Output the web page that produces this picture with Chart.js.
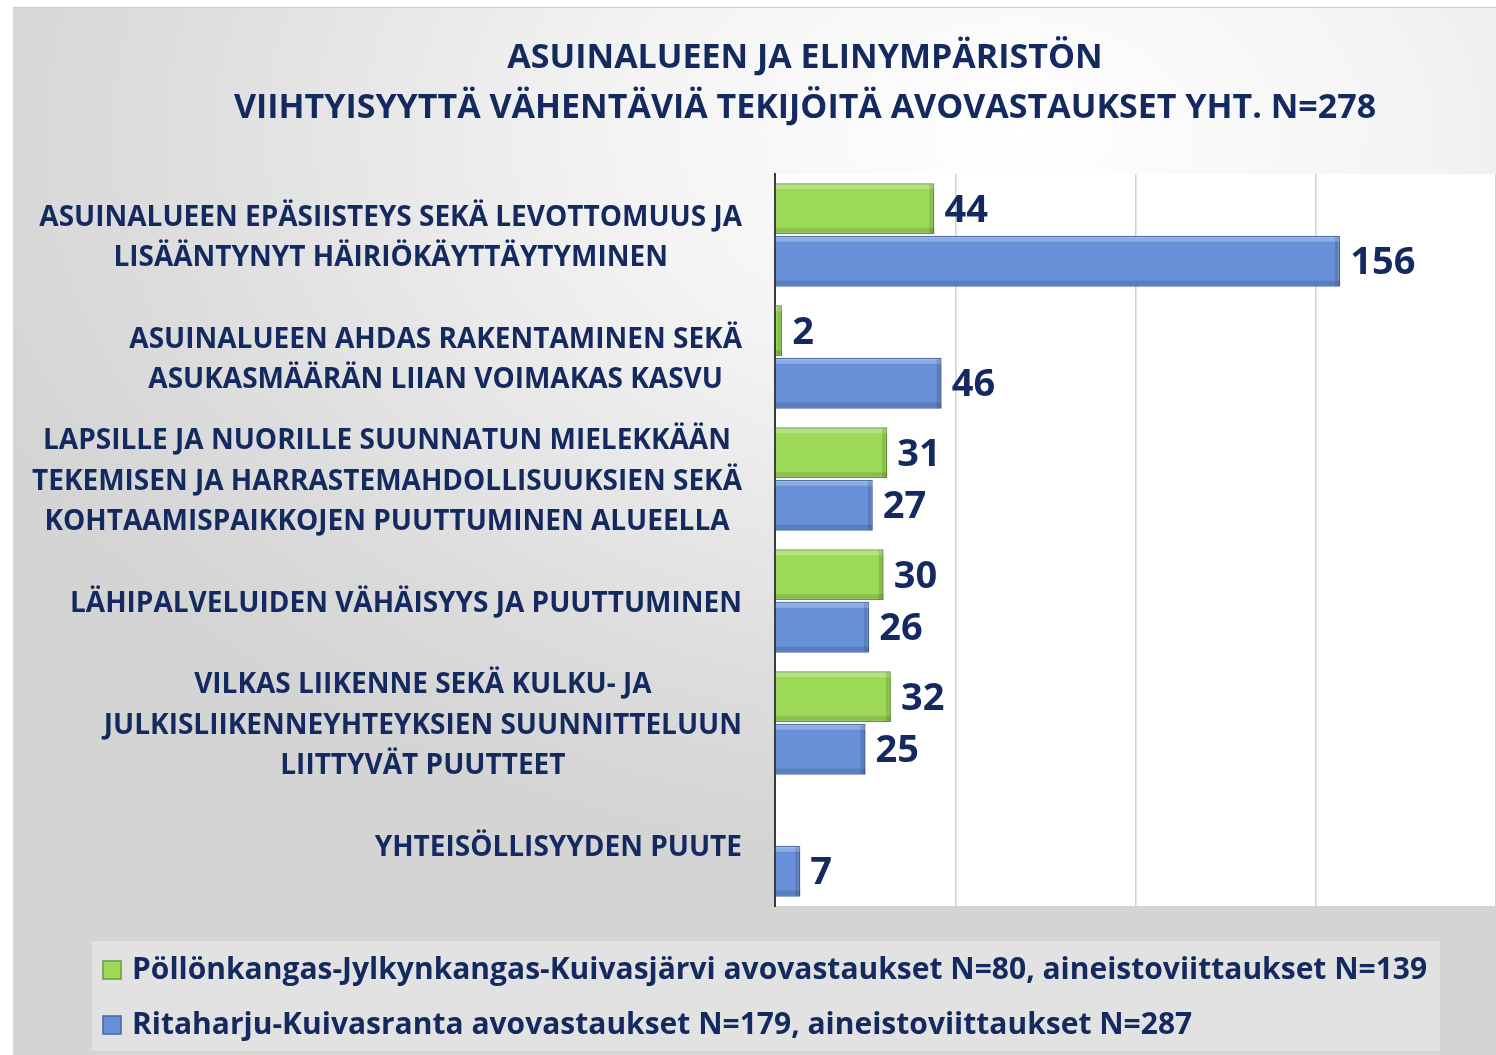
<!DOCTYPE html>
<html>
<head>
<meta charset="utf-8">
<script src="https://cdn.jsdelivr.net/npm/chart.js@4.4.1/dist/chart.umd.min.js"></script>
<style>
  html, body { margin: 0; padding: 0; background: #ffffff; }
  #frame {
    position: absolute; left: 13px; top: 7px; width: 1483px; height: 1048px;
    background: radial-gradient(ellipse 75% 70% at 68% 12%, #ffffff 0%, #f4f4f4 35%, #dcdcdc 80%, #d4d4d4 100%);
    border-top: 1px solid #c9c9c9;
    box-sizing: border-box;
  }
</style>
</head>
<body>
<div id="frame"><canvas id="chart"></canvas></div>
<script>
// Survey chart: factors reducing comfort of living area
const titleLines = ['ASUINALUEEN JA ELINYMPÄRISTÖN', 'VIIHTYISYYTTÄ VÄHENTÄVIÄ TEKIJÖITÄ AVOVASTAUKSET YHT. N=278'];

const categories = [
  ['ASUINALUEEN EPÄSIISTEYS SEKÄ LEVOTTOMUUS JA', 'LISÄÄNTYNYT HÄIRIÖKÄYTTÄYTYMINEN'],
  ['ASUINALUEEN AHDAS RAKENTAMINEN SEKÄ', 'ASUKASMÄÄRÄN LIIAN VOIMAKAS KASVU'],
  ['LAPSILLE JA NUORILLE SUUNNATUN MIELEKKÄÄN', 'TEKEMISEN JA HARRASTEMAHDOLLISUUKSIEN SEKÄ', 'KOHTAAMISPAIKKOJEN PUUTTUMINEN ALUEELLA'],
  ['LÄHIPALVELUIDEN VÄHÄISYYS JA PUUTTUMINEN'],
  ['VILKAS LIIKENNE SEKÄ KULKU- JA', 'JULKISLIIKENNEYHTEYKSIEN SUUNNITTELUUN', 'LIITTYVÄT PUUTTEET'],
  ['YHTEISÖLLISYYDEN PUUTE']
];

const seriesNames = [
  'Pöllönkangas-Jylkynkangas-Kuivasjärvi avovastaukset N=80, aineistoviittaukset N=139',
  'Ritaharju-Kuivasranta avovastaukset N=179, aineistoviittaukset N=287'
];
const pollonkangasValues = [44, 2, 31, 30, 32, null];
const ritaharjuValues = [156, 46, 27, 26, 25, 7];

const navy = '#13295f';
const greenFill = '#9bd957', greenEdge = '#6a9a34';
const blueFill = '#6790d8', blueEdge = '#46679f';

// white plot area + title + category labels + legend box
const decorPlugin = {
  id: 'decor',
  beforeDraw: function(chart) {
    const ctx = chart.ctx, a = chart.chartArea;
    ctx.save();
    ctx.fillStyle = '#ffffff';
    ctx.fillRect(a.left, a.top, a.right - a.left, a.bottom - a.top);
    ctx.restore();
  },
  afterDraw: function(chart) {
    const ctx = chart.ctx;
    const yScale = chart.scales.y;
    ctx.save();
    // title
    ctx.fillStyle = navy;
    ctx.textAlign = 'center';
    ctx.textBaseline = 'middle';
    ctx.font = 'bold 34px "Open Sans"';
    ctx.fillText(titleLines[0], 792, 50);
    ctx.fillText(titleLines[1], 792, 100);

    // category labels: block right aligned, lines centred inside block
    ctx.font = 'bold 28px "Open Sans"';
    const rightEdge = yScale.right - 33;
    categories.forEach(function(lines, i) {
      const cy = yScale.getPixelForValue(i) + 3;
      const widest = Math.max.apply(null, lines.map(function(l) { return ctx.measureText(l).width; }));
      const cx = rightEdge - widest / 2;
      const lh = 40.5;
      lines.forEach(function(l, k) {
        ctx.fillText(l, cx, cy + (k - (lines.length - 1) / 2) * lh);
      });
    });

    // legend
    ctx.fillStyle = '#e2e2e2';
    ctx.fillRect(79, 933, 1348, 110);
    const fills = [greenFill, blueFill], edges = [greenEdge, blueEdge];
    const rowY = [962, 1017];
    ctx.font = 'bold 30px "Open Sans"';
    ctx.textAlign = 'left';
    seriesNames.forEach(function(name, i) {
      ctx.fillStyle = fills[i];
      ctx.fillRect(90, rowY[i] - 9, 18, 18);
      ctx.strokeStyle = edges[i];
      ctx.lineWidth = 1.5;
      ctx.strokeRect(90, rowY[i] - 9, 18, 18);
      ctx.fillStyle = navy;
      ctx.fillText(name, 119, rowY[i]);
    });
    ctx.restore();
  },
  afterDatasetsDraw: function(chart) {
    const ctx = chart.ctx;
    ctx.save();
    chart.data.datasets.forEach(function(ds, di) {
      const meta = chart.getDatasetMeta(di);
      meta.data.forEach(function(bar, i) {
        const v = ds.data[i];
        if (v === null || v === undefined) return;
        const p = bar.getProps(['x', 'y', 'base', 'height'], true);
        const top = p.y - p.height / 2;
        const w = p.x - p.base;
        // bevel highlights
        ctx.fillStyle = 'rgba(255,255,255,0.25)';
        ctx.fillRect(p.base, top + 1, w, 5);
        ctx.fillStyle = 'rgba(0,0,0,0.12)';
        ctx.fillRect(p.base, top + p.height - 6, w, 5);
        ctx.fillRect(p.x - 5, top + 1, 4, p.height - 2);
        // value label
        ctx.fillStyle = navy;
        ctx.font = 'bold 38px "Open Sans"';
        ctx.textAlign = 'left';
        ctx.textBaseline = 'middle';
        ctx.fillText(String(v), p.x + 10, p.y + 2);
      });
    });
    ctx.restore();
  }
};

document.addEventListener('DOMContentLoaded', function() {
  const cvs = document.getElementById('chart');
  cvs.width = 1483;
  cvs.height = 1048;
  cvs.style.width = '1483px';
  cvs.style.height = '1048px';

  new Chart(cvs, {
    type: 'bar',
    data: {
      labels: categories,
      datasets: [{
        label: seriesNames[0],
        data: pollonkangasValues,
        backgroundColor: greenFill,
        borderColor: greenEdge,
        borderWidth: 1.5,
        categoryPercentage: 0.86,
        barPercentage: 0.97
      }, {
        label: seriesNames[1],
        data: ritaharjuValues,
        backgroundColor: blueFill,
        borderColor: blueEdge,
        borderWidth: 1.5,
        categoryPercentage: 0.86,
        barPercentage: 0.97
      }]
    },
    options: {
      indexAxis: 'y',
      responsive: false,
      animation: false,
      layout: { padding: { top: 166, bottom: 150, left: 0, right: 0 } },
      plugins: {
        legend: { display: false },
        title: { display: false },
        tooltip: { enabled: false }
      },
      scales: {
        x: {
          min: 0, max: 199,
          ticks: { display: false, stepSize: 50 },
          border: { display: false },
          grid: {
            drawTicks: false,
            color: function(c) { return c.tick && c.tick.value === 0 ? 'rgba(0,0,0,0)' : '#d0d0d0'; },
            lineWidth: 1.5
          },
          afterFit: function(s) { s.height = 0; }
        },
        y: {
          ticks: { display: false },
          grid: { display: false, drawTicks: false },
          border: { display: true, color: '#3a3a3a', width: 2 },
          afterFit: function(s) { s.width = 762; }
        }
      }
    },
    plugins: [decorPlugin]
  });
});
</script>
</body>
</html>
